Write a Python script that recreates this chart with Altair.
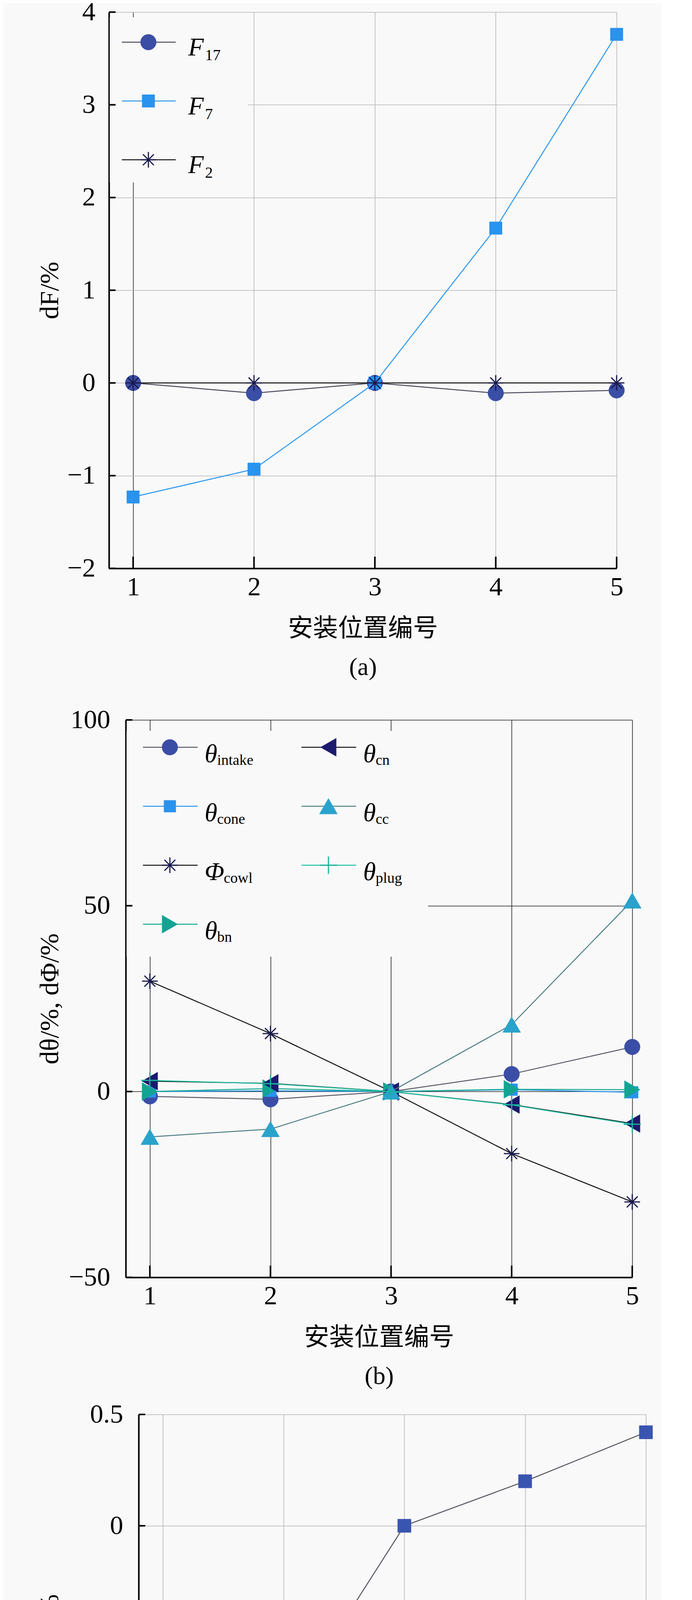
import altair as alt
import pandas as pd

SERIF = "Liberation Serif"
TITLE_FONT = "Liberation Serif, Noto Sans CJK SC"
SUB_FONT = "Liberation Serif, DejaVu Serif"
BG = "#f9f9f9"

# ---------------- data ----------------
positions = [1, 2, 3, 4, 5]
x_ticks = [1, 2, 3, 4, 5]
x_domain = [0.8, 5]
x_title = "安装位置编号"

# panel (a)
a_F17 = [0.0, -0.11, 0.0, -0.11, -0.08]
a_F7 = [-1.23, -0.93, 0.0, 1.67, 3.76]
a_F2 = [0.0, 0.0, 0.0, 0.0, 0.0]
a_y_ticks = [-2, -1, 0, 1, 2, 3, 4]

# panel (b)
b_theta_intake = [-1.3, -2.1, 0.0, 4.7, 12.0]
b_theta_cone = [0.0, 0.2, 0.0, 0.5, -0.2]
b_phi_cowl = [29.7, 15.6, 0.0, -16.7, -29.7]
b_theta_bn = [0.0, 0.8, 0.0, 0.6, 0.5]
b_theta_cn = [2.8, 2.2, 0.0, -3.5, -8.6]
b_theta_cc = [-12.2, -10.1, 0.0, 18.0, 51.4]
b_theta_plug = [3.0, 2.1, 0.0, -3.6, -8.8]
b_y_ticks = [-50, 0, 50, 100]

# panel (c)
c_F_npt = [-1.03, -0.85, 0.0, 0.20, 0.42]
c_y_ticks = [-1.5, -1.0, -0.5, 0.0, 0.5]

ASTERISK = "M-1,0L1,0M0,-1L0,1M-0.7,-0.7L0.7,0.7M-0.7,0.7L0.7,-0.7"
PLUS = "M-1,0L1,0M0,-1L0,1"


def series(values, line, marker, shape, size, filled, base, sub, basew):
    return dict(values=values, line=line, marker=marker, shape=shape, size=size,
                filled=filled, base=base, sub=sub, basew=basew)


def point_mark(s):
    if s["filled"]:
        return alt.Chart(pd.DataFrame({"k": [0]})).mark_point(
            shape=s["shape"], size=s["size"], filled=True, fill=s["marker"],
            stroke=s["marker"], strokeWidth=1, opacity=1)
    return alt.Chart(pd.DataFrame({"k": [0]})).mark_point(
        shape=s["shape"], size=s["size"], filled=False, stroke=s["marker"],
        strokeWidth=3, opacity=1)


def make_panel(slist, y_domain, y_ticks, width, height, y_title, caption,
               xgrid_color, ygrid_color, legend, y_label_expr=None,
               y_title_padding=18, y_label_padding=35):
    xaxis = alt.Axis(values=x_ticks, format="d", title=[x_title, caption],
                     titleFont=TITLE_FONT, titleFontSize=64, titleFontWeight="normal",
                     titleColor="black", titleLineHeight=99, titlePadding=40,
                     labelFont=SERIF, labelFontSize=68, labelColor="black",
                     labelPadding=14, labelFlush=False, ticks=False, tickSize=0,
                     domainColor="black", domainWidth=4, grid=True,
                     gridColor=xgrid_color, gridWidth=1.6)
    ykw = dict(values=y_ticks, title=y_title, titleFont=SUB_FONT, titleFontSize=68,
               titleFontWeight="normal", titleColor="black", titlePadding=y_title_padding,
               labelFont=SERIF, labelFontSize=68, labelColor="black",
               labelPadding=y_label_padding, labelFlush=False, ticks=False, tickSize=0,
               domainColor="black", domainWidth=4, grid=True,
               gridColor=ygrid_color, gridWidth=1.6)
    if y_label_expr:
        ykw["labelExpr"] = y_label_expr
    else:
        ykw["format"] = "d"
    X = alt.X("x:Q", scale=alt.Scale(domain=x_domain, nice=False, zero=False), axis=xaxis)
    Y = alt.Y("y:Q", scale=alt.Scale(domain=y_domain, nice=False, zero=False),
              axis=alt.Axis(**ykw))

    layers = []
    one = pd.DataFrame({"k": [0]})
    # legend background box (hides grid lines behind the legend)
    if legend:
        bx0, bx1, by0, by1 = legend["box"]
        layers.append(alt.Chart(one).mark_rect(fill=BG).encode(
            x=alt.value(bx0), x2=alt.value(bx1), y=alt.value(by0), y2=alt.value(by1)))

    # data series
    for s in slist:
        df = pd.DataFrame({"x": positions, "y": s["values"]})
        layers.append(alt.Chart(df).mark_line(color=s["line"], strokeWidth=2.5).encode(x=X, y=Y))
        pm = point_mark(s)
        layers.append(pm.properties(data=df).encode(x=X, y=Y))

    # inward ticks
    xt = pd.DataFrame({"x": x_ticks, "y": [y_domain[0]] * len(x_ticks)})
    layers.append(alt.Chart(xt).mark_rule(color="black", strokeWidth=4).encode(
        x=X, y=Y, y2=alt.value(height - 30)))
    yt = pd.DataFrame({"x": [x_domain[0]] * len(y_ticks), "y": y_ticks})
    layers.append(alt.Chart(yt).mark_rule(color="black", strokeWidth=4).encode(
        x=X, y=Y, x2=alt.value(17)))

    # legend entries
    if legend:
        for s, (col, row) in zip(slist, legend["cells"]):
            cx = col * legend["dx"]
            cy = legend["y0"] + row * legend["dy"]
            layers.append(alt.Chart(one).mark_rule(color=s["line"], strokeWidth=2.5).encode(
                x=alt.value(legend["lx0"] + cx), x2=alt.value(legend["lx1"] + cx),
                y=alt.value(cy)))
            layers.append(point_mark(s).encode(
                x=alt.value(legend["mx"] + cx), y=alt.value(cy)))
            layers.append(alt.Chart(one).mark_text(
                text=s["base"], font=SERIF, fontStyle="italic", fontSize=legend["fs"],
                align="left", baseline="alphabetic", color="black").encode(
                x=alt.value(legend["tx"] + cx), y=alt.value(cy + legend["bdy"])))
            layers.append(alt.Chart(one).mark_text(
                text=s["sub"], font=SERIF, fontSize=legend["sfs"],
                align="left", baseline="alphabetic", color="black").encode(
                x=alt.value(legend["tx"] + cx + s["basew"]), y=alt.value(cy + legend["sdy"])))

    panel = alt.layer(*layers).properties(width=width, height=height)
    # a tiny blank spacer on the left lets each panel's y-axis title start at the same x
    spacer = alt.Chart(one).mark_point(opacity=0).properties(width=1, height=10)
    return alt.hconcat(spacer, panel, spacing=0)


# ---------------- panel (a) ----------------
a_series = [
    series(a_F17, "#4a4a5c", "#3b4ea6", "circle", 1600, True, "F", "17", 43),
    series(a_F7, "#2a96ee", "#2a93ee", "square", 1024, True, "F", "7", 43),
    series(a_F2, "#111111", "#1a1a4e", ASTERISK, 1600, False, "F", "2", 43),
]
a_legend = dict(box=[2, 356, 13, 436], cells=[(0, 0), (0, 1), (0, 2)],
                dx=0, y0=77, dy=150.5, lx0=33, lx1=171, mx=101, tx=203,
                fs=65, sfs=40, bdy=34, sdy=46)
panel_a = make_panel(a_series, [-2, 4], a_y_ticks, 1300, 1424, "dF/%", "(a)",
                     {"condition": {"test": "datum.value === 1", "value": "#1e1e1e"},
                      "value": "#b4b4b4"},
                     "#b4b4b4", a_legend, y_title_padding=9, y_label_padding=35)

# ---------------- panel (b) ----------------
b_series = [
    series(b_theta_intake, "#5a5a66", "#3b4ea6", "circle", 1600, True, "θ", "intake", 32),
    series(b_theta_cone, "#2a96ee", "#2a93ee", "square", 900, True, "θ", "cone", 32),
    series(b_phi_cowl, "#111111", "#1a1a4e", ASTERISK, 1600, False, "Φ", "cowl", 49),
    series(b_theta_bn, "#14a892", "#12a493", "triangle-right", 2100, True, "θ", "bn", 32),
    series(b_theta_cn, "#111111", "#1c1a6e", "triangle-left", 2100, True, "θ", "cn", 32),
    series(b_theta_cc, "#4f7f84", "#2aa3cc", "triangle-up", 2100, True, "θ", "cc", 32),
    series(b_theta_plug, "#1fc2a2", "#18b39a", PLUS, 2000, False, "θ", "plug", 32),
]
b_legend = dict(box=[2, 774, 28, 606],
                cells=[(0, 0), (0, 1), (0, 2), (0, 3), (1, 0), (1, 1), (1, 2)],
                dx=406, y0=70, dy=151, lx0=44, lx1=184, mx=113, tx=202,
                fs=66, sfs=38, bdy=38, sdy=45)
panel_b = make_panel(b_series, [-50, 100], b_y_ticks, 1297, 1427, "dθ/%, dΦ/%", "(b)",
                     "#1e1e1e", "#1e1e1e", b_legend, y_title_padding=13, y_label_padding=40)

# ---------------- panel (c) ----------------
c_series = [
    series(c_F_npt, "#555560", "#3a55b0", "square", 1150, True, "F", "npt", 43),
]
panel_c = make_panel(c_series, [-1.5, 0.5], c_y_ticks, 1299, 1140, "dFₙₚₜ/%", "(c)",
                     "#b4b4b4", "#b4b4b4", None,
                     y_label_expr="datum.value == 0 ? '0' : format(datum.value, '.1f')",
                     y_title_padding=29, y_label_padding=40)

lower = alt.vconcat(panel_b, panel_c, spacing=32)
chart = alt.vconcat(panel_a, lower, spacing=69).properties(
    background=BG,
    padding={"left": 79, "top": -11, "right": 20, "bottom": 0},
).configure_view(stroke=None)

chart.save("out.html", embed_options={"renderer": "svg", "actions": False})
